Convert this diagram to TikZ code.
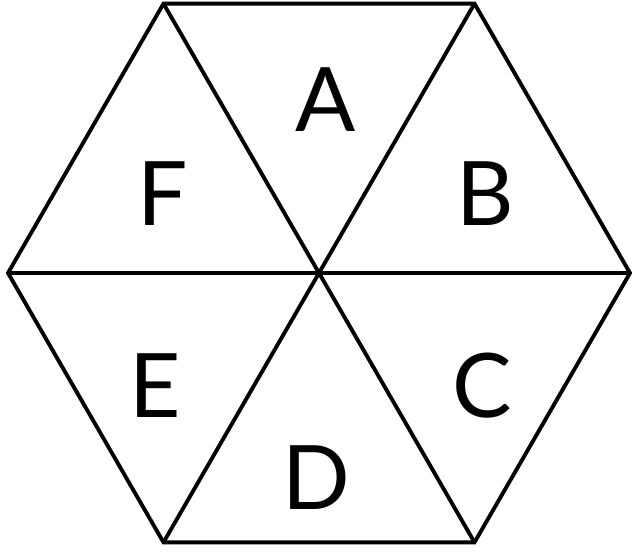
\documentclass[tikz,border=0pt]{standalone}
\usepackage{fontspec}
\setmainfont{Lato}
\usetikzlibrary{calc}

\tikzset{
  edge/.style={line width=3.3pt,line join=miter},
  lbl/.style={font=\fontsize{76}{76}\selectfont,inner sep=0pt}
}

\begin{document}
\begin{tikzpicture}[x=0.03cm,y=-0.03cm]
\useasboundingbox (0,0) rectangle (632,552);
% centre and corners
\coordinate (o) at (319,273);
\foreach \ang/\nm in {0/r,60/dr,120/dl,180/l,240/ul,300/ur}
  \coordinate (\nm) at ($(o)+(\ang:311)$);
\draw[edge] (ur) -- (r) -- (dr) -- (dl) -- (l) -- (ul) -- cycle;
\draw[edge] (ul) -- (dr);
\draw[edge] (ur) -- (dl);
\draw[edge] (l) -- (r);
% letters
\node[lbl] (a) at (326,100) {A};
\node[lbl] (b) at (485,194) {B};
\node[lbl] (c) at (482,386) {C};
\node[lbl] (d) at (316,478) {D};
\node[lbl] (e) at (155,386) {E};
\node[lbl] (f) at (163,194) {F};
\end{tikzpicture}
\end{document}
